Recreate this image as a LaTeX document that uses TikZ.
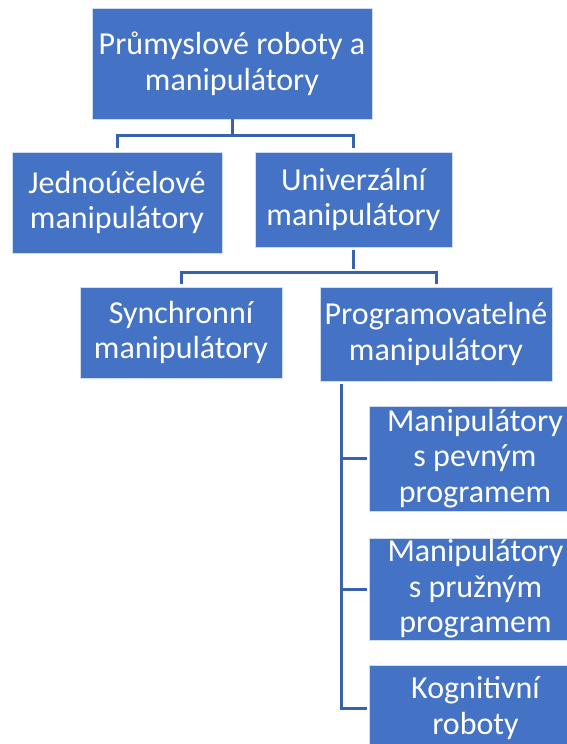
\documentclass[tikz,border=0pt]{standalone}
\usepackage{fontspec}
\setmainfont{Carlito}
\usetikzlibrary{calc}

\definecolor{boxblue}{HTML}{4472C4}
\definecolor{lineblue}{HTML}{3A62AC}

\begin{document}
\begin{tikzpicture}[x=1pt, y=-1pt, line cap=butt, line join=miter,
  box/.style={rectangle, fill=boxblue, draw=white!75!boxblue, line width=0.8pt,
    text=white, align=center, inner sep=0pt,
    font=\fontsize{32}{35.5}\selectfont},
  conn/.style={draw=lineblue, line width=3pt}]

% ----------------------------
% FRAME
% ----------------------------
\useasboundingbox (0,0) rectangle (566,744);

% ----------------------------
% LEVEL 0 / 1
% ----------------------------
\node[box, minimum width=280pt, minimum height=111pt] (root) at (232,63.5)
  {Průmyslové roboty a\\manipulátory};

\node[box, minimum width=210pt, minimum height=101pt] (jedno) at (117,202.5)
  {Jednoúčelové\\manipulátory};
\node[box, minimum width=197pt, minimum height=95pt] (univ) at (353.5,199.5)
  {Univerzální\\manipulátory};

% ----------------------------
% LEVEL 2
% ----------------------------
\node[box, minimum width=202pt, minimum height=91pt] (sync) at (181,332.5)
  {Synchronní\\manipulátory};
\node[box, minimum width=232pt, minimum height=94pt] (prog) at (436,334)
  {Programovatelné\\manipulátory};

% ----------------------------
% LEVEL 3 (right column, cut by the frame)
% ----------------------------
\node[box, minimum width=212pt, minimum height=105pt] (pevny) at (475,458.5)
  {Manipulátory\\s pevným\\programem};
\node[box, minimum width=212pt, minimum height=102pt] (pruzny) at (475.5,589)
  {Manipulátory\\s pružným\\programem};
\node[box, minimum width=212pt, minimum height=86pt] (kogn) at (475.5,708)
  {Kognitivní\\roboty};

% ----------------------------
% CONNECTORS
% ----------------------------
\draw[conn, shorten >=4pt] (root.south) -- ++(0,16) coordinate (j1) -| (jedno.north);
\draw[conn, shorten >=4pt] (j1) -| (univ.north);

\draw[conn, shorten >=3pt, shorten <=3pt] (univ.south) -- ++(0,25) coordinate (j2);
\draw[conn, shorten >=3pt] (j2) -| (sync.north);
\draw[conn, shorten >=3pt] (j2) -| (prog.north);

\coordinate (pv) at ($(prog.south west)+(22,0)$);
\draw[conn, shorten <=3pt, shorten >=2pt] (pv) |- (pevny.west);
\draw[conn, shorten <=3pt, shorten >=2pt] (pv) |- (pruzny.west);
\draw[conn, shorten <=3pt, shorten >=2pt] (pv) |- (kogn.west);

\end{tikzpicture}
\end{document}
